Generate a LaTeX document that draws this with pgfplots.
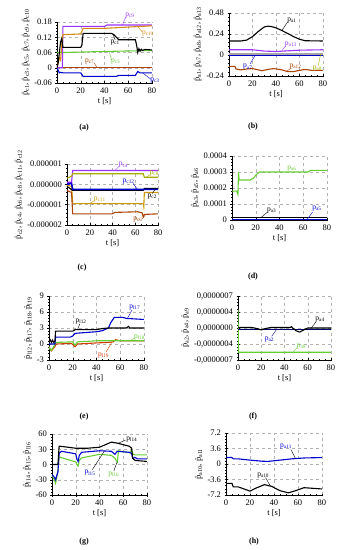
\documentclass[border=0pt]{standalone}
\usepackage{pgfplots}
\pgfplotsset{compat=1.18}
\usepackage{fontspec}
\setmainfont{Liberation Serif}
\definecolor{purpleC}{RGB}{153,51,255}
\definecolor{orangeC}{RGB}{214,140,20}
\definecolor{greenC}{RGB}{102,204,51}
\definecolor{brownC}{RGB}{170,68,0}
\definecolor{blueC}{RGB}{0,0,204}
\definecolor{navyC}{RGB}{0,0,110}
\definecolor{oliveC}{RGB}{170,170,0}
\definecolor{goldC}{RGB}{204,153,0}
\definecolor{redC}{RGB}{210,60,0}
\newcommand{\hp}[1]{$\hat{\mathrm{p}}_{\mathrm{#1}}$}
\newcommand{\lp}[1]{$\mathrm{p}_{\mathrm{#1}}$}
\tikzset{ann/.style={font=\fontsize{7.5}{8}\selectfont, inner sep=0.5pt}}
\pgfplotsset{
  panel/.style={
    scale only axis, clip mode=individual,
    xmin=0, xmax=80, xtick={0,20,40,60,80},
    minor x tick num=3, minor y tick num=4,
    scaled y ticks=false, scaled x ticks=false,
    grid=major, major grid style={dashed, gray!60, line width=0.4pt},
    axis x line*=bottom, axis y line*=left,
    axis line style={-, line width=0.6pt},
    tick style={black, line width=0.4pt},
    major tick length=3pt, minor tick length=1.5pt, tick align=center,
    xlabel={t [s]},
    tick label style={font=\fontsize{8.5}{9}\selectfont},
    label style={font=\fontsize{8.5}{9}\selectfont},
    xlabel style={yshift=3pt},
    ylabel style={yshift=-2pt},
    /pgf/number format/assume math mode=true,
    every axis plot/.append style={line width=1.1pt, no markers},
  },
}
\begin{document}
\begin{tikzpicture}
\useasboundingbox (0pt,0pt) rectangle (340pt,550pt);
% ---------------- (a)
\begin{axis}[panel, at={(57pt,467pt)}, anchor=south west, width=95pt, height=61pt,
  ymin=-0.06, ymax=0.18, ytick={-0.06,0,0.06,0.12,0.18},
  yticklabels={-0.06,0,0.06,0.12,0.18},
  ylabel={\hp{c1}, \hp{c3}, \hp{c5}, \hp{c7}, \hp{c9}, \hp{c10}}]
\addplot[brownC] coordinates {(0,0)(80,0)};
\addplot[greenC] coordinates {(0,0.06)(5,0.06)(40,0.064)(80,0.068)};
\addplot[blueC] coordinates {(0,0)(1,-0.01)(2,-0.02)(3,-0.018)(5,-0.02)(20,-0.02)(22,-0.034)(50,-0.034)(52,-0.03)(66,-0.03)(68,-0.015)(70,-0.02)(80,-0.02)};
\addplot[purpleC] coordinates {(0,0)(4.5,0)(5,0.163)(40,0.163)(42,0.168)(80,0.168)};
\addplot[orangeC] coordinates {(0,0)(1,0.02)(2,0.04)(3,0.03)(4,0.09)(5,0.13)(20,0.133)(22,0.155)(40,0.155)(60,0.16)(80,0.165)};
\addplot[black] coordinates {(0,0)(1,0.02)(2,0.06)(3,0.1)(4,0.115)(5,0.08)(20,0.08)(21,0.09)(22,0.135)(46,0.135)(48,0.13)(52,0.11)(66,0.11)(67,0.09)(68,0.06)(69,0.075)(70,0.065)(71,0.073)(72,0.068)(74,0.072)(80,0.07)};
\draw[purpleC, line width=0.4pt] (axis cs:55,0.168) -- (axis cs:58,0.2);
\node[ann, purpleC, anchor=west] at (axis cs:57,0.205) {\lp{c9}};
\draw[orangeC, line width=0.4pt] (axis cs:68,0.162) -- (axis cs:72,0.14);
\node[ann, orangeC, anchor=west] at (axis cs:71,0.135) {\lp{c10}};
\draw[black, line width=0.4pt] (axis cs:47,0.133) -- (axis cs:49,0.11);
\node[ann, black, anchor=north] at (axis cs:49,0.112) {\lp{c1}};
\draw[greenC, line width=0.4pt] (axis cs:44,0.063) -- (axis cs:46,0.03);
\node[ann, greenC, anchor=west] at (axis cs:45,0.025) {\lp{c5}};
\draw[brownC, line width=0.4pt] (axis cs:34,0) -- (axis cs:31,0.02);
\node[ann, brownC, anchor=east] at (axis cs:32,0.025) {\lp{c7}};
\draw[blueC, line width=0.4pt] (axis cs:72,-0.02) -- (axis cs:79,-0.045);
\node[ann, blueC, anchor=west] at (axis cs:78,-0.052) {\lp{c3}};
\end{axis}
\node[font=\bfseries\fontsize{8}{9}\selectfont] at (84pt,422pt) {(a)};
% ---------------- (b)
\begin{axis}[panel, at={(229pt,474pt)}, anchor=south west, width=94pt, height=63pt,
  ymin=-0.24, ymax=0.48, ytick={-0.24,0,0.24,0.48},
  yticklabels={-0.24,0,0.24,0.48},
  ylabel={\hp{a1}, \hp{a7}, \hp{a8}, \hp{a12}, \hp{a13}}]
\addplot[gray!70, line width=2pt] coordinates {(0,0.015)(80,0.015)};
\addplot[blueC] coordinates {(0,-0.01)(80,-0.01)};
\addplot[purpleC] coordinates {(0,0.06)(20,0.06)(30,0.045)(40,0.04)(60,0.055)(80,0.06)};
\addplot[brownC] coordinates {(0,-0.13)(5,-0.13)(6,-0.16)(10,-0.17)(15,-0.16)(20,-0.155)(25,-0.17)(28,-0.18)(33,-0.165)(38,-0.155)(45,-0.17)(50,-0.19)(55,-0.19)(60,-0.175)(65,-0.165)(70,-0.175)(80,-0.175)};
\addplot[black] coordinates {(0,0.16)(10,0.16)(15,0.17)(20,0.21)(25,0.27)(30,0.32)(33,0.33)(36,0.325)(40,0.31)(45,0.28)(50,0.245)(55,0.21)(60,0.18)(65,0.163)(80,0.16)};
\draw[black, line width=0.4pt] (axis cs:45,0.28) -- (axis cs:50,0.38);
\node[ann, black, anchor=west] at (axis cs:49,0.39) {\lp{a1}};
\draw[purpleC, line width=0.4pt] (axis cs:45,0.05) -- (axis cs:48,0.1);
\node[ann, purpleC, anchor=west] at (axis cs:47,0.12) {\lp{a13}};
\draw[blueC, line width=0.4pt] (axis cs:22,-0.01) -- (axis cs:18,-0.1);
\node[ann, blueC, anchor=north] at (axis cs:16,-0.1) {\lp{a7}};
\draw[brownC, line width=0.4pt] (axis cs:49,-0.185) -- (axis cs:53,-0.15);
\node[ann, brownC, anchor=west] at (axis cs:51,-0.13) {\lp{a12}};
\draw[oliveC, line width=0.4pt] (axis cs:78,0.01) -- (axis cs:76,-0.12);
\node[ann, oliveC, anchor=north] at (axis cs:75,-0.12) {\lp{a8}};
\end{axis}
\node[font=\bfseries\fontsize{8}{9}\selectfont] at (253pt,423pt) {(b)};
% ---------------- (c)
\begin{axis}[panel, at={(67pt,325pt)}, anchor=south west, width=91pt, height=61pt,
  ymin=-0.000002, ymax=0.000001, ytick={-0.000002,-0.000001,0,0.000001},
  yticklabels={-0.000002,-0.000001,0.000000,0.000001}, minor y tick num=4,
  ylabel={\hp{c2}, \hp{c4}, \hp{c6}, \hp{c8}, \hp{c11}, \hp{c12}}]
\addplot[purpleC] coordinates {(0,0.0000001)(4,0.0000001)(5,0.00000068)(80,0.00000068)};
\addplot[oliveC] coordinates {(0,0.0000003)(4,0.0000004)(5,0.00000052)(67,0.00000052)(68,0.00000035)(80,0.00000035)};
\addplot[goldC] coordinates {(0,-0.00000005)(4,-0.0000001)(5,-0.00000095)(67,-0.00000095)(67.5,-0.0000011)(68,-0.0000004)(80,-0.0000004)};
\addplot[brownC] coordinates {(0,-0.0000003)(4,-0.0000004)(5,-0.00000145)(40,-0.00000145)(42,-0.00000138)(62,-0.00000135)(66,-0.0000014)(67,-0.0000016)(68,-0.00000148)(80,-0.00000145)};
\addplot[black] coordinates {(0,-0.0000001)(5,-0.0000003)(67,-0.0000003)(68,-0.0000002)(80,-0.0000002)};
\addplot[blueC, line width=1.6pt] coordinates {(0,0)(4,0.00000005)(5,-0.00000025)(80,-0.00000025)};
\draw[purpleC, line width=0.4pt] (axis cs:42,0.00000068) -- (axis cs:46,0.0000009);
\node[ann, purpleC, anchor=west] at (axis cs:45,0.00000095) {\lp{c4}};
\draw[oliveC, line width=0.4pt] (axis cs:70,0.00000035) -- (axis cs:73,0.00000048);
\node[ann, oliveC, anchor=west] at (axis cs:72,0.00000055) {\lp{c8}};
\draw[blueC, line width=0.4pt] (axis cs:62,-0.00000025) -- (axis cs:58,0.00000005);
\node[ann, blueC, anchor=east] at (axis cs:60,0.00000012) {\lp{c12}};
\draw[black, line width=0.4pt] (axis cs:78,-0.0000002) -- (axis cs:75,-0.00000045);
\node[ann, black, anchor=north] at (axis cs:75,-0.00000045) {\lp{c2}};
\draw[goldC, line width=0.4pt] (axis cs:20,-0.00000095) -- (axis cs:24,-0.0000008);
\node[ann, goldC, anchor=west] at (axis cs:23,-0.00000075) {\lp{c11}};
\draw[brownC, line width=0.4pt] (axis cs:69,-0.0000015) -- (axis cs:66,-0.0000017);
\node[ann, brownC, anchor=east] at (axis cs:67,-0.00000175) {\lp{c6}};
\end{axis}
\node[font=\bfseries\fontsize{8}{9}\selectfont] at (82pt,282pt) {(c)};
% ---------------- (d)
\begin{axis}[panel, at={(232pt,330pt)}, anchor=south west, width=95pt, height=64pt,
  ymin=0, ymax=0.0004, ytick={0,0.0001,0.0002,0.0003,0.0004},
  yticklabels={0,0.0001,0.0002,0.0003,0.0004},
  ylabel={\hp{a3}, \hp{a5}, \hp{a6}}]
\addplot[greenC] coordinates {(0,0.00018)(4,0.00018)(5,0.00016)(5.5,0.0003)(6,0.00025)(15,0.00025)(18,0.00026)(20,0.00028)(23,0.0003)(64,0.0003)(66,0.00031)(80,0.00031)};
\addplot[black] coordinates {(0,0.000013)(80,0.000013)};
\addplot[blueC] coordinates {(0,0.000002)(80,0.000002)};
\node[ann, greenC, anchor=south west] at (axis cs:46,0.0003) {\lp{a6}};
\draw[black, line width=0.4pt] (axis cs:24,0.000013) -- (axis cs:30,0.00005);
\node[ann, black, anchor=west] at (axis cs:29,0.00006) {\lp{a3}};
\draw[blueC, line width=0.4pt] (axis cs:63,0.000002) -- (axis cs:68,0.00005);
\node[ann, blueC, anchor=west] at (axis cs:67,0.00007) {\lp{a5}};
\end{axis}
\node[font=\bfseries\fontsize{8}{9}\selectfont] at (253pt,273pt) {(d)};
% ---------------- (e)
\begin{axis}[panel, at={(49pt,190pt)}, anchor=south west, width=95pt, height=64pt,
  ymin=-3, ymax=9, ytick={-3,0,3,6,9}, yticklabels={-3,0,3,6,9},
  ylabel={\hp{l12}, \hp{l17}, \hp{l18}, \hp{l19}}]
\addplot[redC] coordinates {(0,-0.5)(1,-1)(2,-1.3)(3,-1)(5,-0.5)(6,0)(19,0.1)(21,-0.3)(22,-0.5)(24,0)(40,0.2)(50,0.3)(54,0.4)(56,0.8)(60,0.6)(80,0.6)};
\addplot[greenC] coordinates {(0,-0.5)(1,-1)(2,-1.2)(3,-0.8)(4,-0.5)(5,0)(6,0.3)(20,0.4)(21,0)(22,-0.2)(24,0.4)(40,0.6)(55,0.6)(80,0.6)};
\addplot[blueC] coordinates {(0,0)(5,0)(5.5,1.3)(18,1.3)(20,1.5)(22,2)(40,2.3)(45,2.5)(50,3)(52,4)(55,5)(62,5)(65,4.8)(80,4.6)};
\addplot[black] coordinates {(0,0.5)(1,0.8)(2,0.3)(3,0.7)(4,0.3)(5,0.5)(5.5,2.4)(20,2.4)(22,2.7)(40,2.7)(45,2.9)(50,3)(65,3)(67,3.3)(68,3)(80,3)};
\draw[black, line width=0.4pt] (axis cs:24,2.7) -- (axis cs:26,3.8);
\node[ann, black, anchor=south] at (axis cs:27,3.6) {\lp{l12}};
\draw[blueC, line width=0.4pt] (axis cs:66,4.8) -- (axis cs:70,6.4);
\node[ann, blueC, anchor=south west] at (axis cs:67,6.2) {\lp{l17}};
\draw[greenC, line width=0.4pt] (axis cs:68,0.6) -- (axis cs:72,1.1);
\node[ann, greenC, anchor=west] at (axis cs:71,1.2) {\lp{l18}};
\draw[redC, line width=0.4pt] (axis cs:53,0.35) -- (axis cs:48,-1.5);
\node[ann, redC, anchor=north] at (axis cs:46,-1.5) {\lp{l19}};
\end{axis}
\node[font=\bfseries\fontsize{8}{9}\selectfont] at (84pt,133pt) {(e)};
% ---------------- (f)
\begin{axis}[panel, at={(238pt,190pt)}, anchor=south west, width=93pt, height=64pt,
  ymin=-0.0000007, ymax=0.0000007,
  ytick={-0.0000007,-0.00000035,0,0.00000035,0.0000007},
  yticklabels={{-0,0000007},{-0,0000004},{0,0000000},{0,0000004},{0,0000007}},
  ylabel={\hp{a2}, \hp{a4}, \hp{a9}}]
\addplot[greenC] coordinates {(0,0.0000004)(0.5,-0.00000053)(80,-0.00000053)};
\addplot[navyC, line width=1.6pt] coordinates {(0,-0.00000003)(80,-0.00000003)};
\addplot[black] coordinates {(0,0.00000001)(12,0.00000001)(16,-0.00000001)(20,-0.00000004)(24,-0.00000001)(28,0.00000001)(45,0.00000001)(46,0.00000003)(47,0)(50,-0.00000006)(53,-0.00000009)(56,-0.00000005)(60,0)(80,0)};
\draw[black, line width=0.4pt] (axis cs:63,0) -- (axis cs:67,0.00000013);
\node[ann, black, anchor=west] at (axis cs:66,0.00000018) {\lp{a4}};
\draw[navyC, line width=0.4pt] (axis cs:33,-0.00000004) -- (axis cs:29,-0.00000018);
\node[ann, blueC, anchor=north] at (axis cs:27,-0.00000017) {\lp{a2}};
\draw[greenC, line width=0.4pt] (axis cs:47,-0.00000053) -- (axis cs:51,-0.00000043);
\node[ann, greenC, anchor=west] at (axis cs:50,-0.0000004) {\lp{a9}};
\end{axis}
\node[font=\bfseries\fontsize{8}{9}\selectfont] at (253pt,133pt) {(f)};
% ---------------- (g)
\begin{axis}[panel, at={(52pt,55pt)}, anchor=south west, width=95pt, height=61pt,
  ymin=-60, ymax=60, ytick={-60,-30,0,30,60}, yticklabels={-60,-30,0,30,60},
  ylabel={\hp{l14}, \hp{l15}, \hp{l16}}]
\addplot[greenC] coordinates {(0,-22)(2,-30)(3,-37)(4,-25)(5,-12)(6,15)(10,12)(20,5)(21,0)(22,-3)(23,8)(25,13)(40,20)(50,18)(53,12)(55,5)(56,27)(60,25)(66,23)(67,30)(68,20)(70,19)(80,19)};
\addplot[blueC] coordinates {(0,-20)(2,-25)(3,-30)(4,-22)(5,-15)(6,22)(8,26)(20,21)(21,10)(22,6)(23,18)(25,24)(40,27)(50,26)(52,22)(53,20)(55,26)(65,24)(67,22)(68,12)(70,14)(72,11)(80,11)};
\addplot[black] coordinates {(0,0)(5,0)(6,36)(10,35)(20,32)(30,32)(40,34)(45,39)(50,44)(55,42)(60,39)(65,36)(67,32)(68,12)(70,8)(80,6)};
\draw[black, line width=0.4pt] (axis cs:56,42) -- (axis cs:62,48);
\node[ann, black, anchor=west] at (axis cs:62,49) {\lp{l14}};
\draw[black, line width=0.4pt] (axis cs:44,26) -- (axis cs:34,-10);
\node[ann, blueC, anchor=north] at (axis cs:32,-10) {\lp{l15}};
\draw[black, line width=0.4pt] (axis cs:55,6) -- (axis cs:52,-13);
\node[ann, greenC, anchor=north] at (axis cs:52,-13) {\lp{l16}};
\end{axis}
\node[font=\bfseries\fontsize{8}{9}\selectfont] at (84pt,8pt) {(g)};
% ---------------- (h)
\begin{axis}[panel, at={(226pt,55pt)}, anchor=south west, width=96pt, height=62pt,
  ymin=-7.2, ymax=7.2, ytick={-7.2,-3.6,0,3.6,7.2}, yticklabels={-7.2,-3.6,0,3.6,7.2},
  ylabel={\hp{a10}, \hp{a11}}]
\addplot[blueC] coordinates {(0,1.5)(5,1.5)(6,1.2)(10,1.2)(20,0.9)(30,0.65)(35,0.6)(45,0.9)(55,1.2)(65,1.4)(80,1.5)};
\addplot[black] coordinates {(0,1.5)(0.3,-4.5)(5,-4.5)(6,-5.3)(10,-5.3)(15,-5.8)(20,-6.3)(25,-5.6)(32,-4.8)(38,-5.2)(45,-6.2)(52,-6.7)(58,-6.2)(65,-5.5)(80,-5.8)};
\draw[black, line width=0.4pt] (axis cs:58,1.25) -- (axis cs:54,3.4);
\node[ann, blueC, anchor=south] at (axis cs:50,3.2) {\lp{a11}};
\draw[black, line width=0.4pt] (axis cs:37,-5.1) -- (axis cs:33,-3.2);
\node[ann, black, anchor=south] at (axis cs:31,-3.4) {\lp{a10}};
\end{axis}
\node[font=\bfseries\fontsize{8}{9}\selectfont] at (254pt,8pt) {(h)};
\end{tikzpicture}
\end{document}
